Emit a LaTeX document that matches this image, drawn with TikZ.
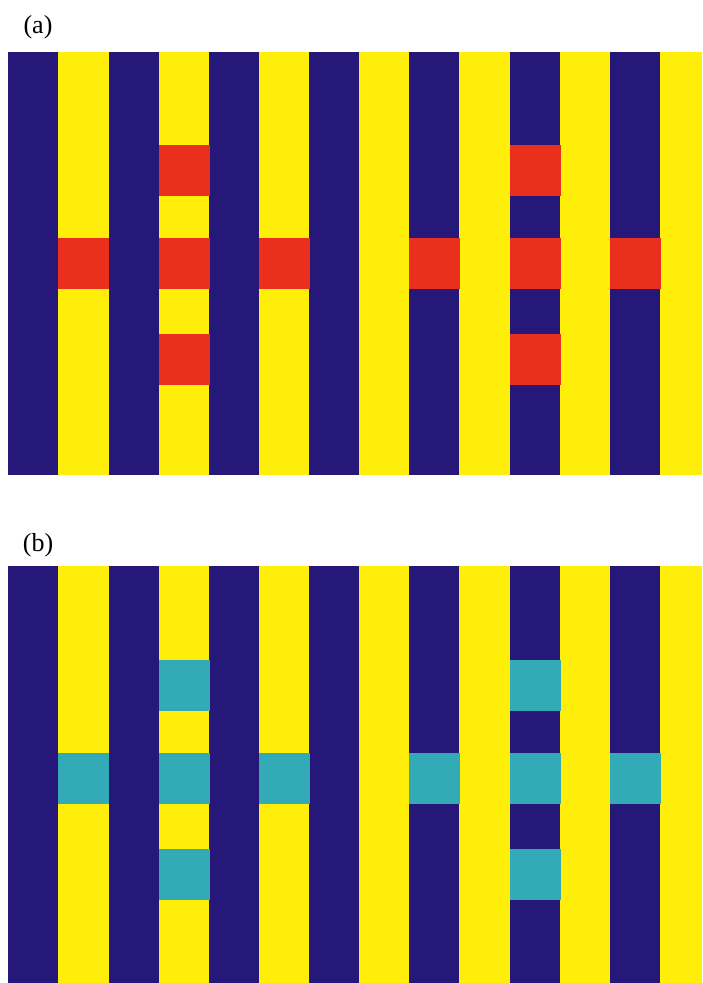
\documentclass[tikz,border=0pt]{standalone}
\usepackage{fontspec}
\setmainfont{Liberation Serif}
\definecolor{navy}{RGB}{38,24,120}
\definecolor{yel}{RGB}{255,238,10}
\definecolor{redsq}{RGB}{234,48,28}
\definecolor{tealsq}{RGB}{51,171,183}
\tikzset{
  panellabel/.style={inner sep=0pt, font=\fontsize{26}{30}\selectfont},
}
\begin{document}
\begin{tikzpicture}[x=1pt,y=-1pt]
\useasboundingbox (0,0) rectangle (702,983);
\fill[white] (0,0) rectangle (702,983);
% panel stripes
\foreach \top/\bot in {52/474.7, 566/983}{
  \foreach \xa/\xb [count=\i] in {8/58,58/109,109/159,159/209,209/259,259/309,309/359,359/409,409/459,459/510,510/560,560/610,610/660,660/702}{
    \pgfmathparse{mod(\i,2)==1 ? "navy" : "yel"}
    \edef\col{\pgfmathresult}
    \fill[\col] (\xa,\top) rectangle (\xb,\bot);
  }
}
% squares
\foreach \sqcol/\yo in {redsq/0, tealsq/515}{
  \foreach \xa/\xb/\ya/\yb in {
    58/109/238/289,
    159/210/145/196, 159/210/238/289, 159/210/334/385,
    259/310/238/289,
    409/460/238/289,
    510/561/145/196, 510/561/238/289, 510/561/334/385,
    610/661/238/289}{
    \fill[\sqcol] (\xa,\ya+\yo) rectangle (\xb,\yb+\yo);
  }
}
\node[panellabel] (la) at (38,27.5) {(a)};
\node[panellabel] (lb) at (38,545.5) {(b)};
\end{tikzpicture}
\end{document}
